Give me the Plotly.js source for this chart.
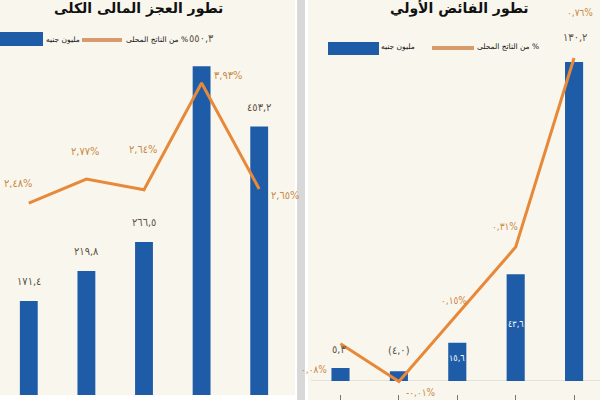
<!DOCTYPE html>
<html>
<head>
<meta charset="utf-8">
<script src="https://cdn.plot.ly/plotly-3.0.1.min.js"></script>
<style>html,body{margin:0;padding:0;background:#fff;}#chart{width:600px;height:400px;}</style>
</head>
<body>
<div id="chart"></div>
<script>
// ---- data ----
const periods = ['١', '٢', '٣', '٤', '٥'];
const deficitValues = [171.4, 219.8, 266.5, 550.3, 453.2];
const deficitLabels = ['١٧١,٤', '٢١٩,٨', '٢٦٦,٥', '٥٥٠,٣', '٤٥٣,٢'];
const deficitPct = [2.48, 2.77, 2.64, 3.93, 2.65];
const deficitPctLabels = ['٢,٤٨%', '٢,٧٧%', '٢,٦٤%', '٣,٩٣%', '٢,٦٥%'];
const surplusValues = [5.3, 4.0, 15.6, 43.6, 130.2];
const surplusLabels = ['٥,٣', '(٤,٠)', '١٥,٦', '٤٣,٦', '١٣٠,٢'];
const surplusPct = [0.08, -0.01, 0.15, 0.31, 0.76];
const surplusPctLabels = ['٠,٠٨%', '-٠,٠١%', '٠,١٥%', '٠,٣١%', '٠,٧٦%'];
const titleLeft = 'تطور العجز المالى الكلى';
const titleRight = 'تطور الفائض الأولي';
const legendBar = 'مليون جنيه';
const legendLine = '% من الناتج المحلى';

// ---- style ----
const BLUE = '#1f5ca8';
const ORANGE = '#e8893a';
const LEG_ORANGE = '#d99a6c';
const CREAM = '#f9f7ed';
const PCT_TXT = '#c98845';
const VAL_TXT = '#5e5148';
const FONT = 'DejaVu Sans Condensed, DejaVu Sans, sans-serif';
const RTL = t => '\u202B' + t + '\u202C';

const traces = [
  {type: 'bar', x: periods, y: deficitValues, xaxis: 'x', yaxis: 'y', marker: {color: BLUE}, hoverinfo: 'skip'},
  {type: 'scatter', mode: 'lines', x: periods, y: deficitPct, xaxis: 'x', yaxis: 'y2', line: {color: ORANGE, width: 3}, hoverinfo: 'skip'},
  {type: 'bar', x: periods, y: surplusValues, xaxis: 'x2', yaxis: 'y3', marker: {color: BLUE}, hoverinfo: 'skip'},
  {type: 'scatter', mode: 'lines', x: periods, y: surplusPct, xaxis: 'x2', yaxis: 'y4', line: {color: ORANGE, width: 3}, hoverinfo: 'skip'}
];

const px = v => v / 600;
const py = v => 1 - v / 400;

const annotations = [];
function ann(o) {
  annotations.push(Object.assign({showarrow: false, font: {family: FONT, size: 11, color: VAL_TXT}}, o));
}

// left bar labels
const lBarShift = [11, 11, 11, 19, 10];
deficitLabels.forEach((t, i) => ann({text: t, x: periods[i], y: deficitValues[i], xref: 'x', yref: 'y',
  xanchor: 'center', yanchor: 'bottom', yshift: lBarShift[i]}));
// left pct labels
const lPct = [
  {xanchor: 'center', yanchor: 'bottom', xshift: -10, yshift: 11},
  {xanchor: 'center', yanchor: 'bottom', xshift: -1, yshift: 19},
  {xanchor: 'center', yanchor: 'bottom', xshift: -1, yshift: 32},
  {xanchor: 'left', yanchor: 'middle', xshift: 10, yshift: 7},
  {xanchor: 'left', yanchor: 'middle', xshift: 10, yshift: -7}
];
deficitPctLabels.forEach((t, i) => ann(Object.assign({text: t, x: periods[i], y: deficitPct[i], xref: 'x', yref: 'y2',
  font: {family: FONT, size: 11, color: PCT_TXT}}, lPct[i])));

// right bar labels
const rBar = [
  {yanchor: 'bottom', yshift: 10, xshift: -2, font: {family: FONT, size: 11, color: VAL_TXT}},
  {yanchor: 'bottom', yshift: 12, xshift: 0, font: {family: FONT, size: 11, color: VAL_TXT}},
  {yanchor: 'top', yshift: -8, xshift: 0, font: {family: FONT, size: 9, color: '#ffffff'}},
  {yanchor: 'top', yshift: -43, xshift: 0, font: {family: FONT, size: 9, color: '#ffffff'}},
  {yanchor: 'bottom', yshift: 16, xshift: 1, font: {family: FONT, size: 11, color: VAL_TXT}}
];
surplusLabels.forEach((t, i) => ann(Object.assign({text: t, x: periods[i], y: surplusValues[i], xref: 'x2', yref: 'y3',
  xanchor: 'center'}, rBar[i])));
// right pct labels
const rPct = [
  {xanchor: 'right', yanchor: 'middle', xshift: -12, yshift: -26},
  {xanchor: 'left', yanchor: 'top', xshift: 5, yshift: -3},
  {xanchor: 'center', yanchor: 'bottom', xshift: -3, yshift: 6},
  {xanchor: 'right', yanchor: 'bottom', xshift: 4, yshift: 13},
  {xanchor: 'center', yanchor: 'bottom', xshift: 6, yshift: 38}
];
surplusPctLabels.forEach((t, i) => ann(Object.assign({text: t, x: periods[i], y: surplusPct[i], xref: 'x2', yref: 'y4',
  font: {family: FONT, size: 10, color: PCT_TXT}}, rPct[i])));

// titles
ann({text: '<b>' + titleLeft + '</b>', xref: 'paper', yref: 'paper', x: px(138), y: py(8), xanchor: 'center', yanchor: 'middle',
  font: {family: 'DejaVu Sans, sans-serif', size: 14, color: '#111'}});
ann({text: '<b>' + titleRight + '</b>', xref: 'paper', yref: 'paper', x: px(459), y: py(9), xanchor: 'center', yanchor: 'middle',
  font: {family: 'DejaVu Sans, sans-serif', size: 14, color: '#111'}});
// legend texts
const legFont = {family: 'DejaVu Sans, sans-serif', size: 7.5, color: '#111'};
ann({text: RTL(legendBar), xref: 'paper', yref: 'paper', x: px(63), y: py(39), xanchor: 'center', yanchor: 'middle', font: legFont});
ann({text: RTL(legendLine), xref: 'paper', yref: 'paper', x: px(157), y: py(39), xanchor: 'center', yanchor: 'middle', font: legFont});
ann({text: RTL(legendBar), xref: 'paper', yref: 'paper', x: px(398), y: py(47), xanchor: 'center', yanchor: 'middle', font: legFont});
ann({text: RTL(legendLine), xref: 'paper', yref: 'paper', x: px(508), y: py(47), xanchor: 'center', yanchor: 'middle', font: legFont});

const shapes = [
  {type: 'rect', xref: 'paper', yref: 'paper', x0: px(0), x1: px(295), y0: py(395), y1: py(0), fillcolor: CREAM, line: {width: 0}, layer: 'below'},
  {type: 'rect', xref: 'paper', yref: 'paper', x0: px(297), x1: px(305), y0: 0, y1: 1, fillcolor: '#d8d8d8', line: {width: 0}, layer: 'below'},
  {type: 'rect', xref: 'paper', yref: 'paper', x0: px(308), x1: 1, y0: 0, y1: 1, fillcolor: CREAM, line: {width: 0}, layer: 'below'},
  // legend keys
  {type: 'rect', xref: 'paper', yref: 'paper', x0: px(0), x1: px(43), y0: py(46), y1: py(32), fillcolor: BLUE, line: {width: 0}},
  {type: 'line', xref: 'paper', yref: 'paper', x0: px(82), x1: px(122), y0: py(40), y1: py(40), line: {color: LEG_ORANGE, width: 4}},
  {type: 'rect', xref: 'paper', yref: 'paper', x0: px(328), x1: px(379), y0: py(55), y1: py(42), fillcolor: BLUE, line: {width: 0}},
  {type: 'line', xref: 'paper', yref: 'paper', x0: px(432), x1: px(474), y0: py(48), y1: py(48), line: {color: LEG_ORANGE, width: 4}}
];

const layout = {
  width: 600, height: 400,
  margin: {l: 0, r: 0, t: 0, b: 0},
  paper_bgcolor: '#ffffff',
  plot_bgcolor: 'rgba(0,0,0,0)',
  showlegend: false,
  bargap: 0.69,
  xaxis: {domain: [0, 0.48], range: [-0.5, 4.5], type: 'category', showticklabels: false, showgrid: false, zeroline: false, showline: false, fixedrange: true},
  yaxis: {domain: [0.0125, 1], range: [19.4, 657.5], showticklabels: false, showgrid: false, zeroline: false, showline: false},
  yaxis2: {overlaying: 'y', range: [0.161, 4.932], showticklabels: false, showgrid: false, zeroline: false, showline: false},
  xaxis2: {domain: [311.3 / 600, 1], range: [-0.5, 4.444], type: 'category', anchor: 'y3', showticklabels: false, showgrid: false,
    zeroline: false, showline: false, ticks: 'inside', ticklen: 5, tickcolor: '#777', tickwidth: 1},
  yaxis3: {domain: [0, 1], anchor: 'x2', range: [-7.76, 155.5], showticklabels: false, showgrid: false, zeroline: true,
    zerolinecolor: '#e4e1d6', zerolinewidth: 1, showline: false},
  yaxis4: {overlaying: 'y3', anchor: 'x2', range: [-0.054, 0.898], showticklabels: false, showgrid: false, zeroline: false, showline: false},
  annotations: annotations,
  shapes: shapes
};

Plotly.newPlot('chart', traces, layout, {displayModeBar: false, staticPlot: true});
</script>
</body>
</html>
